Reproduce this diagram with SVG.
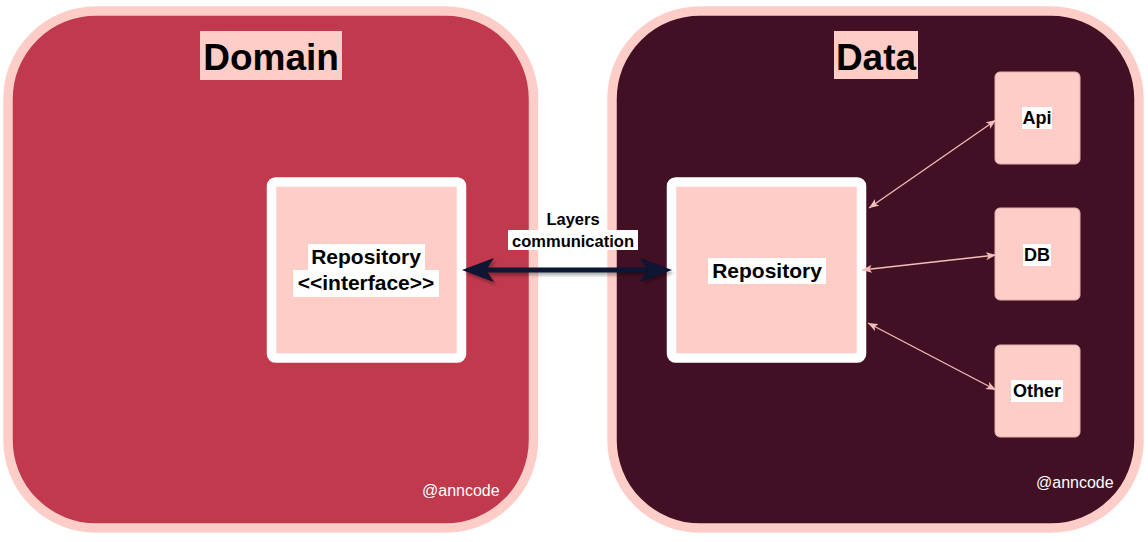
<svg xmlns="http://www.w3.org/2000/svg" width="1148" height="542" viewBox="0 0 1148 542">
<style>
.layer{stroke:#FFCDC8;stroke-width:9.5}
.frame{fill:#FFCDC8;stroke:#FFFFFF;stroke-width:9.5}
.box{fill:#FFCDC8;stroke:#E8AFAA;stroke-width:1}
.bg{fill:#FFCDC8}
.wbg{fill:#FFFFFF}
.title{font-family:"Liberation Sans",Arial,sans-serif;font-weight:bold;font-size:37px;fill:#000;text-anchor:middle}
.lbl{font-family:"Liberation Sans",Arial,sans-serif;font-weight:bold;font-size:21px;fill:#000;text-anchor:middle}
.sm{font-family:"Liberation Sans",Arial,sans-serif;font-weight:bold;font-size:18px;fill:#000;text-anchor:middle}
.mid{font-family:"Liberation Sans",Arial,sans-serif;font-weight:bold;font-size:16.5px;fill:#000;text-anchor:middle}
.sig{font-family:"Liberation Sans",Arial,sans-serif;font-size:16px;fill:#FFFFFF}
.thin{stroke:#F4BDB8;stroke-width:1.3;fill:none}
.thick{stroke:#0A1233;stroke-width:5;fill:none}
</style>
<defs>
<marker id="big" viewBox="0 0 32 24" refX="24" refY="12" markerWidth="32" markerHeight="24" markerUnits="userSpaceOnUse" orient="auto-start-reverse">
<path d="M0,0 L32,12 L0,24 L8,12 Z" fill="#0A1233"/>
</marker>
<marker id="small" viewBox="0 0 10 8" refX="10" refY="4" markerWidth="10" markerHeight="8" markerUnits="userSpaceOnUse" orient="auto-start-reverse">
<path d="M0,0 L10,4 L0,8 L2.5,4 Z" fill="#F4BDB8"/>
</marker>
<filter id="sh" filterUnits="userSpaceOnUse" x="440" y="240" width="260" height="60">
<feDropShadow dx="2" dy="3" stdDeviation="1.5" flood-color="#000" flood-opacity="0.3"/>
</filter>
</defs>

<g id="domain">
<rect class="layer" x="8" y="11" width="525.5" height="517" rx="88" fill="#C1394C"/>
<rect class="bg" x="200" y="31" width="142" height="49"/>
<text class="title" x="271" y="70">Domain</text>
<text class="sig" x="422" y="496">@anncode</text>
</g>

<g id="data">
<rect class="layer" x="612" y="11" width="527" height="517" rx="88" fill="#421024"/>
<rect class="bg" x="834" y="31" width="84" height="48"/>
<text class="title" x="876" y="70">Data</text>
<text class="sig" x="1036" y="488">@anncode</text>
</g>

<g id="domain-repository">
<rect class="frame" x="271.5" y="182" width="190" height="176" rx="4"/>
<rect class="wbg" x="308" y="244" width="117" height="26"/>
<rect class="wbg" x="293" y="270" width="146" height="27"/>
<text class="lbl" x="366" y="264">Repository</text>
<text class="lbl" x="366" y="290">&lt;&lt;interface&gt;&gt;</text>
</g>

<g id="data-repository">
<rect class="frame" x="671.5" y="182" width="190" height="176" rx="4"/>
<rect class="wbg" x="708" y="258" width="118" height="26"/>
<text class="lbl" x="767" y="278">Repository</text>
</g>

<g id="api">
<rect class="box" x="995" y="72" width="85" height="92" rx="5"/>
<rect class="wbg" x="1022" y="107" width="30" height="22"/>
<text class="sm" x="1037" y="124">Api</text>
</g>

<g id="db">
<rect class="box" x="995" y="208" width="85" height="92" rx="5"/>
<rect class="wbg" x="1023" y="244" width="28" height="22"/>
<text class="sm" x="1037" y="261">DB</text>
</g>

<g id="other">
<rect class="box" x="995" y="345" width="85" height="92" rx="5"/>
<rect class="wbg" x="1011" y="380" width="52" height="22"/>
<text class="sm" x="1037" y="397">Other</text>
</g>

<g id="connectors">
<line class="thick" x1="470" y1="270" x2="664" y2="270" marker-start="url(#big)" marker-end="url(#big)" filter="url(#sh)"/>
<line class="thin" x1="869" y1="208" x2="996" y2="120" marker-start="url(#small)" marker-end="url(#small)"/>
<line class="thin" x1="862" y1="270" x2="996" y2="255" marker-start="url(#small)" marker-end="url(#small)"/>
<line class="thin" x1="868" y1="323" x2="996" y2="390" marker-start="url(#small)" marker-end="url(#small)"/>
<g id="connector-label">
<rect class="wbg" x="542" y="208" width="62" height="21"/>
<rect class="wbg" x="508" y="230" width="130" height="20"/>
<text class="mid" x="573" y="225">Layers</text>
<text class="mid" x="573" y="247">communication</text>
</g>
</g>
</svg>
